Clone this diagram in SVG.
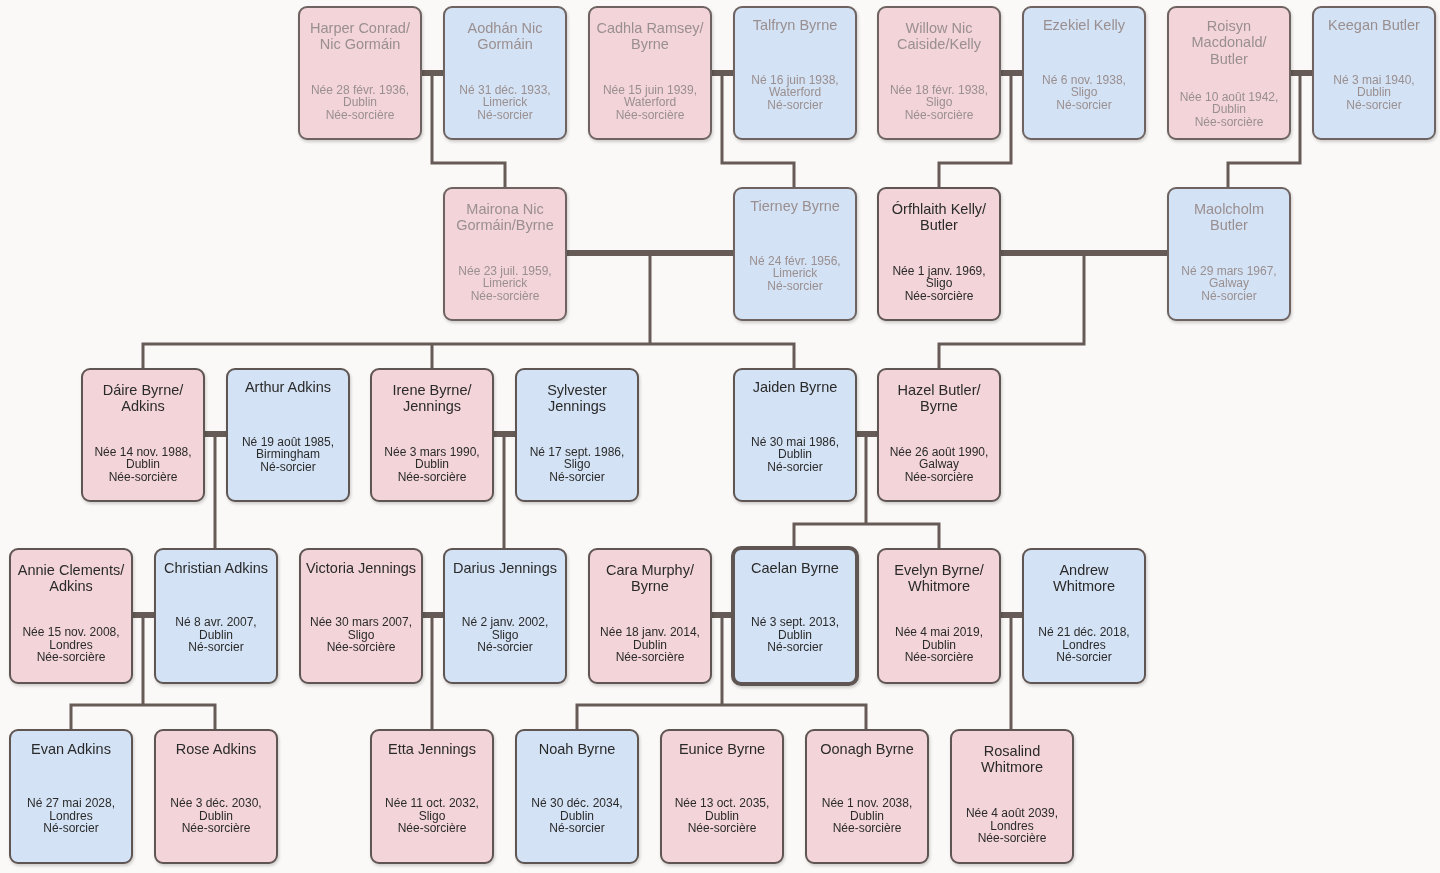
<svg xmlns="http://www.w3.org/2000/svg" width="1440" height="873" viewBox="0 0 1440 873">
<defs>
<style>
.b{stroke:#5f5552;stroke-width:2}
.f{fill:#f2d4d9}.m{fill:#d3e2f4}
.n{font-family:"Liberation Sans",Arial,sans-serif;font-size:14.5px;text-anchor:middle;fill:#2b2b2b}
.d{font-family:"Liberation Sans",Arial,sans-serif;font-size:12px;text-anchor:middle;fill:#2b2b2b}
.fd .n,.fd .d{fill:#9a8f90}
.fd .b{stroke:#6e6461}
.cb{stroke:#665b56;stroke-width:6;fill:none}
.cl{stroke:#665b56;stroke-width:3;fill:none}
</style>
<filter id="sh" x="-10%" y="-10%" width="130%" height="130%"><feDropShadow dx="1" dy="2" stdDeviation="1.5" flood-color="#000" flood-opacity="0.18"/></filter>
</defs>
<rect width="1440" height="873" fill="#faf9f7"/>
<g id="connectors">
<path class="cb" d="M421 73H444M711 73H734M1000 73H1023M1290 73H1313M566 253H734M1000 253H1168M204 434H227M493 434H516M856 434H878M132 615H155M421 615H444M711 615H734M1000 615H1023"/>
<path class="cl" d="M432 73V163H505V188M722 73V163H794V188M1011 73V163H939V188M1300 73V163H1228V188"/>
<path class="cl" d="M650 253V344M143 369V344H794V369M432 344V369M1084 253V344H939V369"/>
<path class="cl" d="M215 434V549M504 434V549M866 434V524M794 549V524H939V549"/>
<path class="cl" d="M143 615V705M71 730V705H215V730M432 615V730M722 615V705M577 730V705H866V730M1011 615V730"/>
</g>
<g filter="url(#sh)">
<g id="harper" class="fd"><rect class="b f" x="299" y="7" width="122" height="132" rx="8"/><text class="n" x="360" y="33">Harper Conrad/</text><text class="n" x="360" y="49">Nic Gormáin</text><text class="d" x="360" y="94">Née 28 févr. 1936,</text><text class="d" x="360" y="106">Dublin</text><text class="d" x="360" y="119">Née-sorcière</text></g>
<g id="aodhan" class="fd"><rect class="b m" x="444" y="7" width="122" height="132" rx="8"/><text class="n" x="505" y="33">Aodhán Nic</text><text class="n" x="505" y="49">Gormáin</text><text class="d" x="505" y="94">Né 31 déc. 1933,</text><text class="d" x="505" y="106">Limerick</text><text class="d" x="505" y="119">Né-sorcier</text></g>
<g id="cadhla" class="fd"><rect class="b f" x="589" y="7" width="122" height="132" rx="8"/><text class="n" x="650" y="33">Cadhla Ramsey/</text><text class="n" x="650" y="49">Byrne</text><text class="d" x="650" y="94">Née 15 juin 1939,</text><text class="d" x="650" y="106">Waterford</text><text class="d" x="650" y="119">Née-sorcière</text></g>
<g id="talfryn" class="fd"><rect class="b m" x="734" y="7" width="122" height="132" rx="8"/><text class="n" x="795" y="30">Talfryn Byrne</text><text class="d" x="795" y="84">Né 16 juin 1938,</text><text class="d" x="795" y="96">Waterford</text><text class="d" x="795" y="109">Né-sorcier</text></g>
<g id="willow" class="fd"><rect class="b f" x="878" y="7" width="122" height="132" rx="8"/><text class="n" x="939" y="33">Willow Nic</text><text class="n" x="939" y="49">Caiside/Kelly</text><text class="d" x="939" y="94">Née 18 févr. 1938,</text><text class="d" x="939" y="106">Sligo</text><text class="d" x="939" y="119">Née-sorcière</text></g>
<g id="ezekiel" class="fd"><rect class="b m" x="1023" y="7" width="122" height="132" rx="8"/><text class="n" x="1084" y="30">Ezekiel Kelly</text><text class="d" x="1084" y="84">Né 6 nov. 1938,</text><text class="d" x="1084" y="96">Sligo</text><text class="d" x="1084" y="109">Né-sorcier</text></g>
<g id="roisyn" class="fd"><rect class="b f" x="1168" y="7" width="122" height="132" rx="8"/><text class="n" x="1229" y="31">Roisyn</text><text class="n" x="1229" y="47">Macdonald/</text><text class="n" x="1229" y="64">Butler</text><text class="d" x="1229" y="101">Née 10 août 1942,</text><text class="d" x="1229" y="113">Dublin</text><text class="d" x="1229" y="126">Née-sorcière</text></g>
<g id="keegan" class="fd"><rect class="b m" x="1313" y="7" width="122" height="132" rx="8"/><text class="n" x="1374" y="30">Keegan Butler</text><text class="d" x="1374" y="84">Né 3 mai 1940,</text><text class="d" x="1374" y="96">Dublin</text><text class="d" x="1374" y="109">Né-sorcier</text></g>

<g id="mairona" class="fd"><rect class="b f" x="444" y="188" width="122" height="132" rx="8"/><text class="n" x="505" y="214">Mairona Nic</text><text class="n" x="505" y="230">Gormáin/Byrne</text><text class="d" x="505" y="275">Née 23 juil. 1959,</text><text class="d" x="505" y="287">Limerick</text><text class="d" x="505" y="300">Née-sorcière</text></g>
<g id="tierney" class="fd"><rect class="b m" x="734" y="188" width="122" height="132" rx="8"/><text class="n" x="795" y="211">Tierney Byrne</text><text class="d" x="795" y="265">Né 24 févr. 1956,</text><text class="d" x="795" y="277">Limerick</text><text class="d" x="795" y="290">Né-sorcier</text></g>
<g id="orfhlaith"><rect class="b f" x="878" y="188" width="122" height="132" rx="8"/><text class="n" x="939" y="214">Órfhlaith Kelly/</text><text class="n" x="939" y="230">Butler</text><text class="d" x="939" y="275">Née 1 janv. 1969,</text><text class="d" x="939" y="287">Sligo</text><text class="d" x="939" y="300">Née-sorcière</text></g>
<g id="maolcholm" class="fd"><rect class="b m" x="1168" y="188" width="122" height="132" rx="8"/><text class="n" x="1229" y="214">Maolcholm</text><text class="n" x="1229" y="230">Butler</text><text class="d" x="1229" y="275">Né 29 mars 1967,</text><text class="d" x="1229" y="287">Galway</text><text class="d" x="1229" y="300">Né-sorcier</text></g>

<g id="daire"><rect class="b f" x="82" y="369" width="122" height="132" rx="8"/><text class="n" x="143" y="395">Dáire Byrne/</text><text class="n" x="143" y="411">Adkins</text><text class="d" x="143" y="456">Née 14 nov. 1988,</text><text class="d" x="143" y="468">Dublin</text><text class="d" x="143" y="481">Née-sorcière</text></g>
<g id="arthur"><rect class="b m" x="227" y="369" width="122" height="132" rx="8"/><text class="n" x="288" y="392">Arthur Adkins</text><text class="d" x="288" y="446">Né 19 août 1985,</text><text class="d" x="288" y="458">Birmingham</text><text class="d" x="288" y="471">Né-sorcier</text></g>
<g id="irene"><rect class="b f" x="371" y="369" width="122" height="132" rx="8"/><text class="n" x="432" y="395">Irene Byrne/</text><text class="n" x="432" y="411">Jennings</text><text class="d" x="432" y="456">Née 3 mars 1990,</text><text class="d" x="432" y="468">Dublin</text><text class="d" x="432" y="481">Née-sorcière</text></g>
<g id="sylvester"><rect class="b m" x="516" y="369" width="122" height="132" rx="8"/><text class="n" x="577" y="395">Sylvester</text><text class="n" x="577" y="411">Jennings</text><text class="d" x="577" y="456">Né 17 sept. 1986,</text><text class="d" x="577" y="468">Sligo</text><text class="d" x="577" y="481">Né-sorcier</text></g>
<g id="jaiden"><rect class="b m" x="734" y="369" width="122" height="132" rx="8"/><text class="n" x="795" y="392">Jaiden Byrne</text><text class="d" x="795" y="446">Né 30 mai 1986,</text><text class="d" x="795" y="458">Dublin</text><text class="d" x="795" y="471">Né-sorcier</text></g>
<g id="hazel"><rect class="b f" x="878" y="369" width="122" height="132" rx="8"/><text class="n" x="939" y="395">Hazel Butler/</text><text class="n" x="939" y="411">Byrne</text><text class="d" x="939" y="456">Née 26 août 1990,</text><text class="d" x="939" y="468">Galway</text><text class="d" x="939" y="481">Née-sorcière</text></g>

<g id="annie"><rect class="b f" x="10" y="549" width="122" height="134" rx="8"/><text class="n" x="71" y="575">Annie Clements/</text><text class="n" x="71" y="591">Adkins</text><text class="d" x="71" y="636">Née 15 nov. 2008,</text><text class="d" x="71" y="649">Londres</text><text class="d" x="71" y="661">Née-sorcière</text></g>
<g id="christian"><rect class="b m" x="155" y="549" width="122" height="134" rx="8"/><text class="n" x="216" y="573">Christian Adkins</text><text class="d" x="216" y="626">Né 8 avr. 2007,</text><text class="d" x="216" y="639">Dublin</text><text class="d" x="216" y="651">Né-sorcier</text></g>
<g id="victoria"><rect class="b f" x="300" y="549" width="122" height="134" rx="8"/><text class="n" x="361" y="573">Victoria Jennings</text><text class="d" x="361" y="626">Née 30 mars 2007,</text><text class="d" x="361" y="639">Sligo</text><text class="d" x="361" y="651">Née-sorcière</text></g>
<g id="darius"><rect class="b m" x="444" y="549" width="122" height="134" rx="8"/><text class="n" x="505" y="573">Darius Jennings</text><text class="d" x="505" y="626">Né 2 janv. 2002,</text><text class="d" x="505" y="639">Sligo</text><text class="d" x="505" y="651">Né-sorcier</text></g>
<g id="cara"><rect class="b f" x="589" y="549" width="122" height="134" rx="8"/><text class="n" x="650" y="575">Cara Murphy/</text><text class="n" x="650" y="591">Byrne</text><text class="d" x="650" y="636">Née 18 janv. 2014,</text><text class="d" x="650" y="649">Dublin</text><text class="d" x="650" y="661">Née-sorcière</text></g>
<g id="caelan"><rect class="m" x="733" y="548" width="124" height="136" rx="8" stroke="#5f5552" stroke-width="4"/><text class="n" x="795" y="573">Caelan Byrne</text><text class="d" x="795" y="626">Né 3 sept. 2013,</text><text class="d" x="795" y="639">Dublin</text><text class="d" x="795" y="651">Né-sorcier</text></g>
<g id="evelyn"><rect class="b f" x="878" y="549" width="122" height="134" rx="8"/><text class="n" x="939" y="575">Evelyn Byrne/</text><text class="n" x="939" y="591">Whitmore</text><text class="d" x="939" y="636">Née 4 mai 2019,</text><text class="d" x="939" y="649">Dublin</text><text class="d" x="939" y="661">Née-sorcière</text></g>
<g id="andrew"><rect class="b m" x="1023" y="549" width="122" height="134" rx="8"/><text class="n" x="1084" y="575">Andrew</text><text class="n" x="1084" y="591">Whitmore</text><text class="d" x="1084" y="636">Né 21 déc. 2018,</text><text class="d" x="1084" y="649">Londres</text><text class="d" x="1084" y="661">Né-sorcier</text></g>

<g id="evan"><rect class="b m" x="10" y="730" width="122" height="133" rx="8"/><text class="n" x="71" y="754">Evan Adkins</text><text class="d" x="71" y="807">Né 27 mai 2028,</text><text class="d" x="71" y="820">Londres</text><text class="d" x="71" y="832">Né-sorcier</text></g>
<g id="rose"><rect class="b f" x="155" y="730" width="122" height="133" rx="8"/><text class="n" x="216" y="754">Rose Adkins</text><text class="d" x="216" y="807">Née 3 déc. 2030,</text><text class="d" x="216" y="820">Dublin</text><text class="d" x="216" y="832">Née-sorcière</text></g>
<g id="etta"><rect class="b f" x="371" y="730" width="122" height="133" rx="8"/><text class="n" x="432" y="754">Etta Jennings</text><text class="d" x="432" y="807">Née 11 oct. 2032,</text><text class="d" x="432" y="820">Sligo</text><text class="d" x="432" y="832">Née-sorcière</text></g>
<g id="noah"><rect class="b m" x="516" y="730" width="122" height="133" rx="8"/><text class="n" x="577" y="754">Noah Byrne</text><text class="d" x="577" y="807">Né 30 déc. 2034,</text><text class="d" x="577" y="820">Dublin</text><text class="d" x="577" y="832">Né-sorcier</text></g>
<g id="eunice"><rect class="b f" x="661" y="730" width="122" height="133" rx="8"/><text class="n" x="722" y="754">Eunice Byrne</text><text class="d" x="722" y="807">Née 13 oct. 2035,</text><text class="d" x="722" y="820">Dublin</text><text class="d" x="722" y="832">Née-sorcière</text></g>
<g id="oonagh"><rect class="b f" x="806" y="730" width="122" height="133" rx="8"/><text class="n" x="867" y="754">Oonagh Byrne</text><text class="d" x="867" y="807">Née 1 nov. 2038,</text><text class="d" x="867" y="820">Dublin</text><text class="d" x="867" y="832">Née-sorcière</text></g>
<g id="rosalind"><rect class="b f" x="951" y="730" width="122" height="133" rx="8"/><text class="n" x="1012" y="756">Rosalind</text><text class="n" x="1012" y="772">Whitmore</text><text class="d" x="1012" y="817">Née 4 août 2039,</text><text class="d" x="1012" y="830">Londres</text><text class="d" x="1012" y="842">Née-sorcière</text></g>
</g>
</svg>
